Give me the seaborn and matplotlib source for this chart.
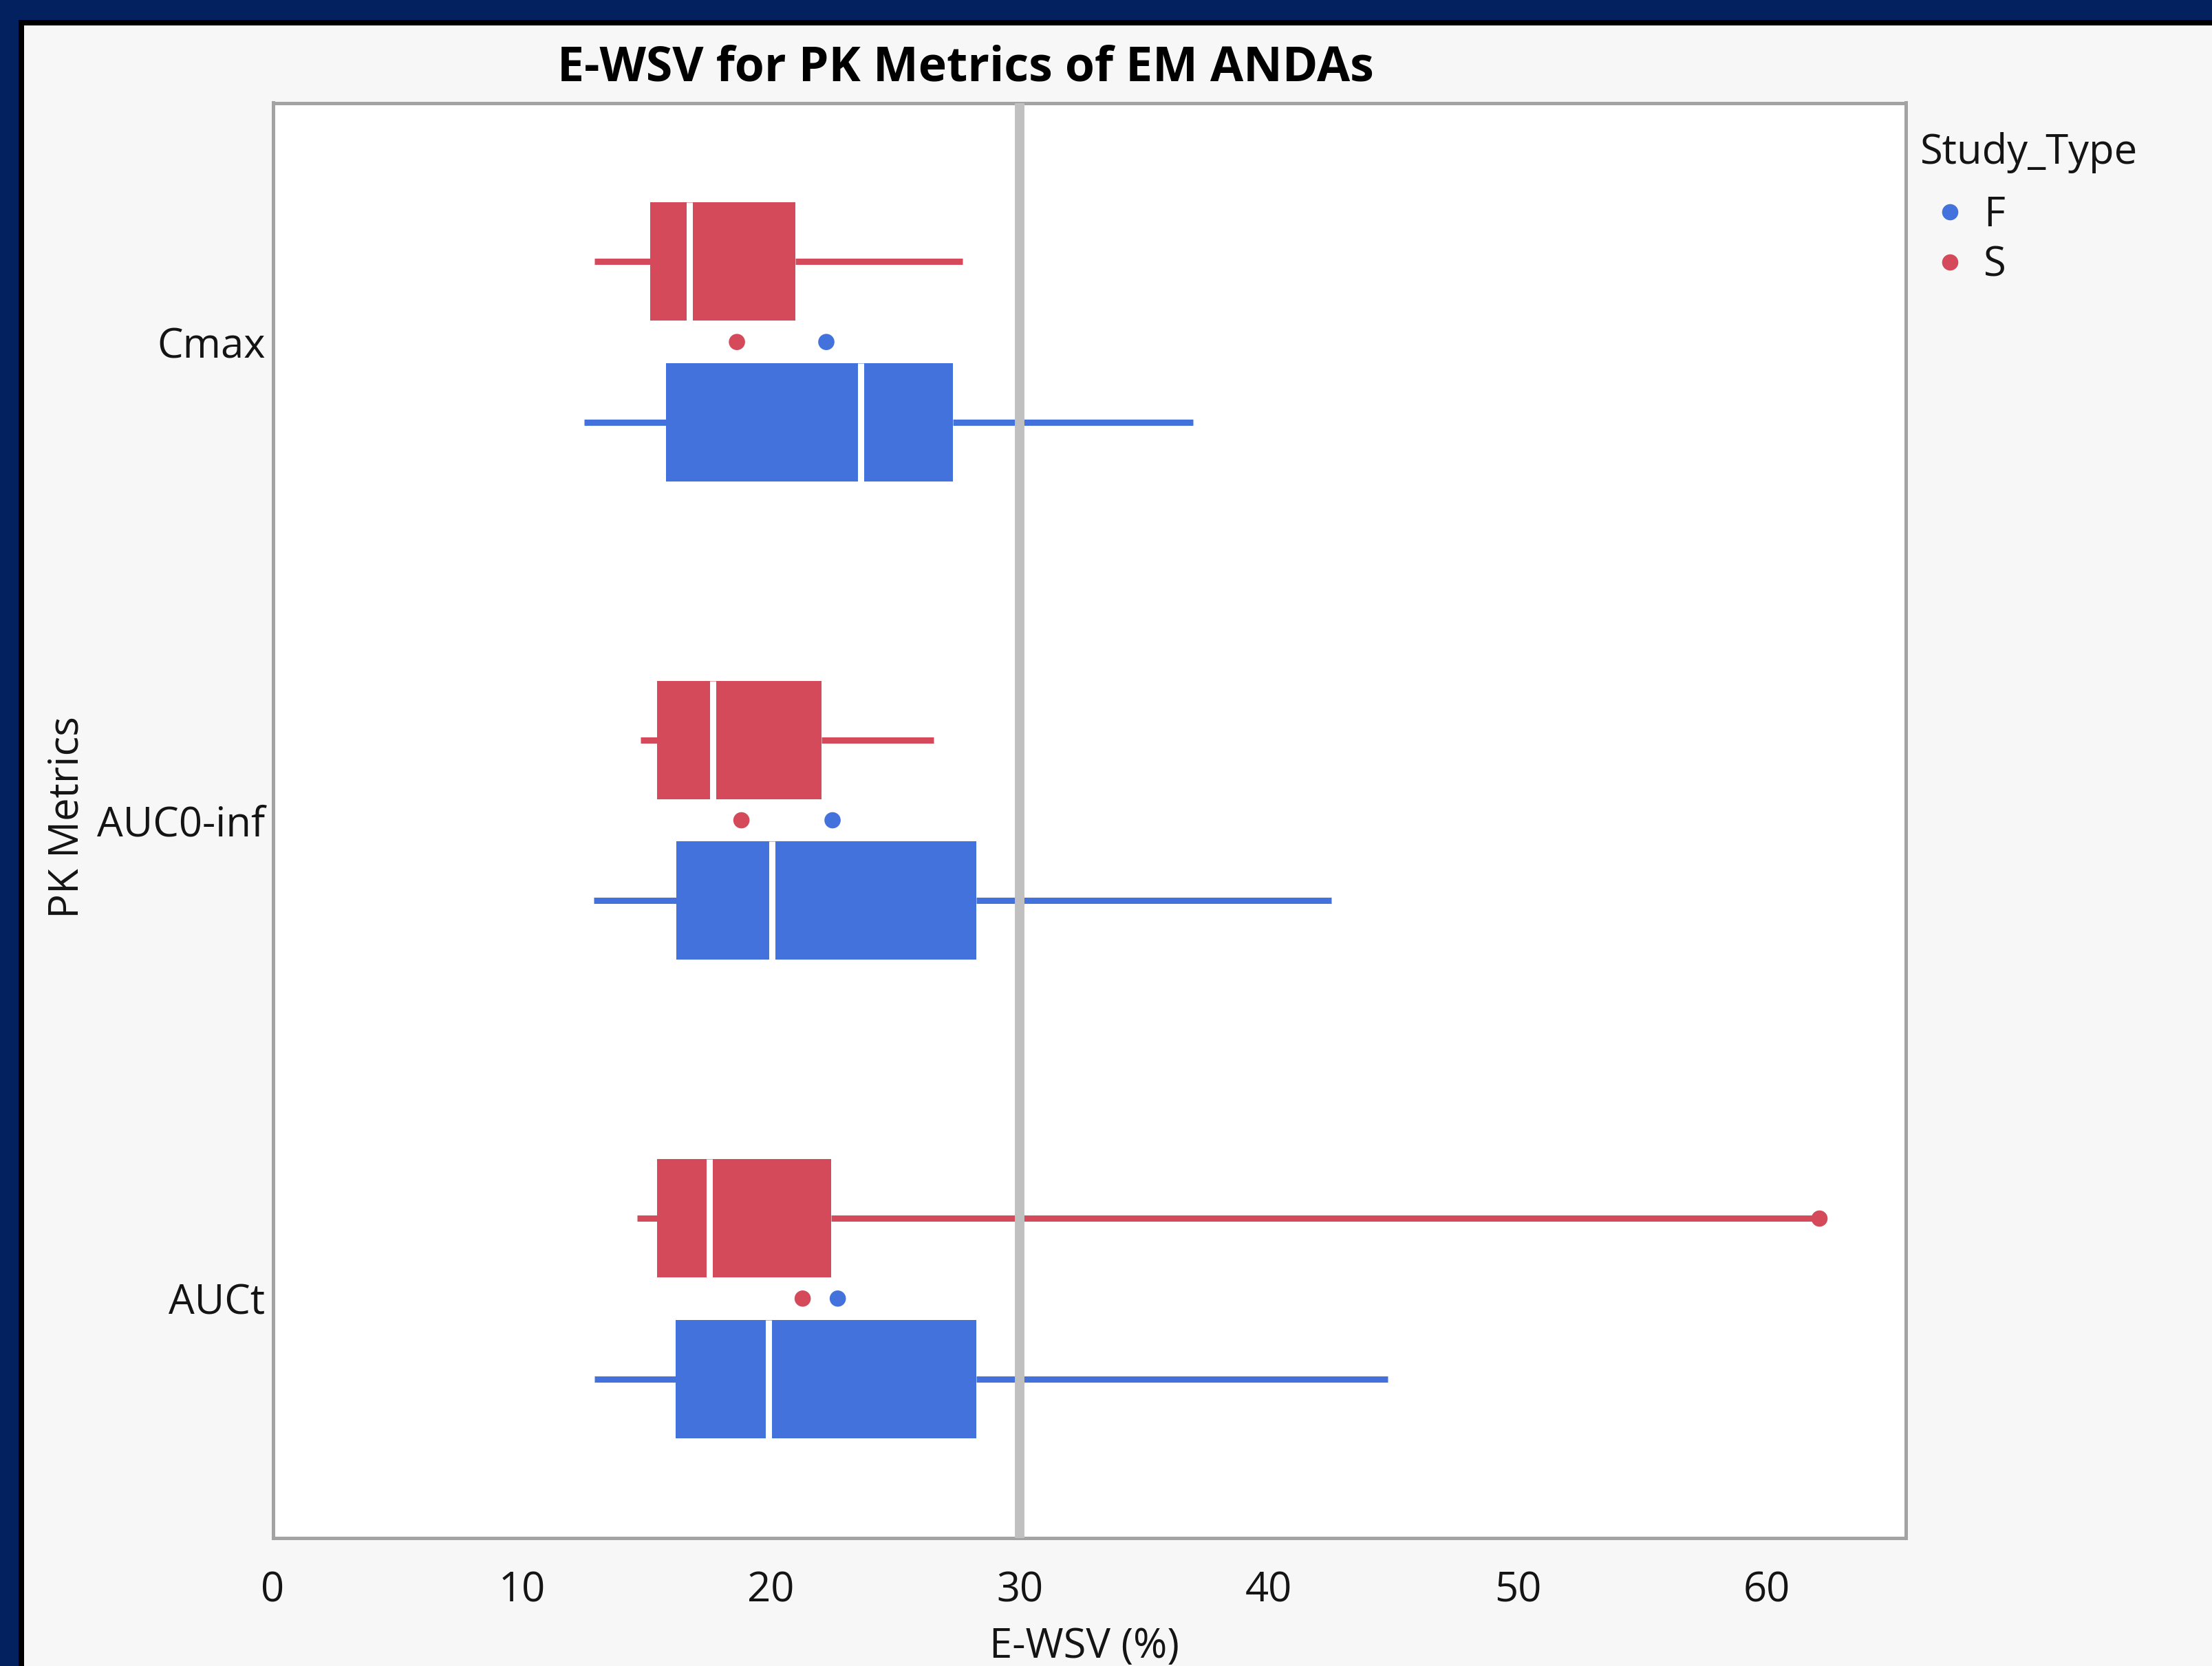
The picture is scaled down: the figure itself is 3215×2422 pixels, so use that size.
import matplotlib
matplotlib.use("Agg")
import matplotlib.pyplot as plt
from matplotlib.colors import to_rgb
from matplotlib.patches import Rectangle
from matplotlib.lines import Line2D
import numpy as np
import pandas as pd
import seaborn as sns

# ---------------------------------------------------------------- data
metrics = ["Cmax", "AUC0-inf", "AUCt"]
study_types = ["S", "F"]          # S drawn above F within each metric
legend_order = ["F", "S"]

# five-number summaries of E-WSV (%): whisker low, Q1, median, Q3, whisker high
summary_S = {
    "Cmax":     [12.91, 15.15, 16.74, 20.98, 27.71],
    "AUC0-inf": [14.76, 15.42, 17.67, 22.04, 26.54],
    "AUCt":     [14.62, 15.42, 17.52, 22.41, 62.10],
}
summary_F = {
    "Cmax":     [12.49, 15.80, 23.61, 27.31, 36.97],
    "AUC0-inf": [12.90, 16.20, 20.04, 28.25, 42.52],
    "AUCt":     [12.91, 16.19, 19.91, 28.24, 44.79],
}
mean_S = [18.64, 18.82, 21.28]
mean_F = [22.23, 22.48, 22.69]

outlier_metric = "AUCt"
outlier_type = "S"
outlier_value = 62.10

reference_value = 30
x_ticks = [0, 10, 20, 30, 40, 50, 60]

palette = {"F": "#4472DD", "S": "#D44A5A"}

# ---------------------------------------------------------------- frames
rows = []
for stype, summ in (("S", summary_S), ("F", summary_F)):
    for m in metrics:
        for v in summ[m]:
            rows.append({"metric": m, "study": stype, "ewsv": v})
box_df = pd.DataFrame(rows)

mean_df = pd.DataFrame({
    "metric": metrics * 2,
    "study": ["S"] * len(metrics) + ["F"] * len(metrics),
    "mean": mean_S + mean_F,
})

# ---------------------------------------------------------------- style
sns.set_style("white")
plt.rcParams["font.family"] = ["Open Sans", "DejaVu Sans"]
text_color = "#141414"

W, H = 3215, 2422
fig = plt.figure(figsize=(W / 100, H / 100), dpi=100, facecolor="#f7f7f7")

# slide frame: navy band with a black inner rule
navy = "#03215F"
fig.add_artist(Rectangle((0, 1 - 29 / H), 1, 29 / H, transform=fig.transFigure,
                         facecolor=navy, edgecolor="none", zorder=-5))
fig.add_artist(Rectangle((0, 0), 27 / W, 1, transform=fig.transFigure,
                         facecolor=navy, edgecolor="none", zorder=-5))
fig.add_artist(Rectangle((27 / W, 1 - 37 / H), 1, 8 / H, transform=fig.transFigure,
                         facecolor="black", edgecolor="none", zorder=-4))
fig.add_artist(Rectangle((27 / W, 0), 8 / W, 1 - 29 / H, transform=fig.transFigure,
                         facecolor="black", edgecolor="none", zorder=-4))

left, right, top, bottom = 396.5, 2769.5, 149.5, 2235.5
ax = fig.add_axes([left / W, 1 - bottom / H, (right - left) / W, (bottom - top) / H])
ax.set_facecolor("white")

# ---------------------------------------------------------------- boxes
sns.boxplot(
    data=box_df, x="ewsv", y="metric", hue="study",
    order=metrics, hue_order=study_types, palette=palette, saturation=1,
    orient="h", width=0.672, gap=0.263, whis=(0, 100),
    showcaps=False, fliersize=0, linewidth=0,
    medianprops=dict(color="white", linewidth=6.5),
    whiskerprops=dict(linewidth=6.5),
    legend=False, ax=ax,
)

outlier_y = None
for cont in ax.containers:
    if not hasattr(cont, "boxes"):
        continue
    face = cont.boxes[0].get_facecolor()
    for b in cont.boxes:
        b.set_edgecolor(face)
        b.set_linewidth(0)
    for w in cont.whiskers:
        w.set_color(face)
        w.set_linewidth(6.5)
        w.set_solid_capstyle("butt")
    for md in cont.medians:
        md.set_color("white")
        md.set_linewidth(6.5)
    if np.allclose(face[:3], to_rgb(palette[outlier_type]), atol=0.02):
        med = cont.medians[metrics.index(outlier_metric)]
        outlier_y = float(np.mean(med.get_ydata()))

if outlier_y is not None:
    ax.plot([outlier_value], [outlier_y], marker="o", ls="none",
            color=palette[outlier_type], markersize=17, mec="none", zorder=6,
            clip_on=False)

# mean markers at the category centre
sns.stripplot(
    data=mean_df, x="mean", y="metric", hue="study",
    order=metrics, hue_order=study_types, palette=palette,
    jitter=False, dodge=False, size=17, linewidth=0,
    legend=False, ax=ax, zorder=6,
)

ax.axvline(reference_value, color="#c0c0c0", lw=10, zorder=5)

# ---------------------------------------------------------------- axes
ax.set_xlim(0, 65.57)
ax.set_ylim(2.5, -0.5)
ax.set_xticks(x_ticks)
ax.set_xticklabels([str(t) for t in x_ticks])
ax.tick_params(axis="x", which="major", direction="out", length=22, width=1.5,
               color="#a0a0a0", pad=11.5, labelsize=43, labelcolor=text_color)
ax.set_xticks([reference_value], minor=True)
ax.tick_params(axis="x", which="minor", direction="out", length=18.4, width=9.4,
               color="black", labelbottom=False)
for t in ax.xaxis.get_major_ticks():
    if abs(t.get_loc() - reference_value) < 1e-9:
        t.tick1line.set_visible(False)
ax.tick_params(axis="y", length=0, pad=8, labelsize=43, labelcolor=text_color)

for sp in ax.spines.values():
    sp.set_visible(True)
    sp.set_color("#a3a3a3")
    sp.set_linewidth(3.6)
ax.grid(False)

ax.set_xlabel("E-WSV (%)", fontsize=43, color=text_color)
ax.xaxis.set_label_coords(1576 / W, 1 - 2410 / H, transform=fig.transFigure)
ax.xaxis.label.set_va("baseline")
ax.set_ylabel("PK Metrics", fontsize=43, color=text_color)
ax.yaxis.set_label_coords(114 / W, 1 - 1188 / H, transform=fig.transFigure)
ax.yaxis.label.set_va("baseline")

fig.text(1403.5 / W, 1 - 117 / H, "E-WSV for PK Metrics of EM ANDAs",
         ha="center", va="baseline", fontsize=50.2, fontweight="bold", color="black")

# ---------------------------------------------------------------- legend
fig.text(2791 / W, 1 - 238 / H, "Study_Type", ha="left", va="baseline",
         fontsize=43, color=text_color)
handles = [Line2D([], [], marker="o", ls="none", color=palette[t],
                  markersize=17, mec="none") for t in legend_order]
ax.legend(handles, legend_order, loc="upper left",
          bbox_to_anchor=(2791 / W, 1 - 283 / H), bbox_transform=fig.transFigure,
          frameon=False, borderpad=0, borderaxespad=0, handlelength=1.44,
          handletextpad=0.1, labelspacing=0.21, fontsize=43, labelcolor=text_color)

fig.savefig("out.png", dpi=100, facecolor=fig.get_facecolor())
